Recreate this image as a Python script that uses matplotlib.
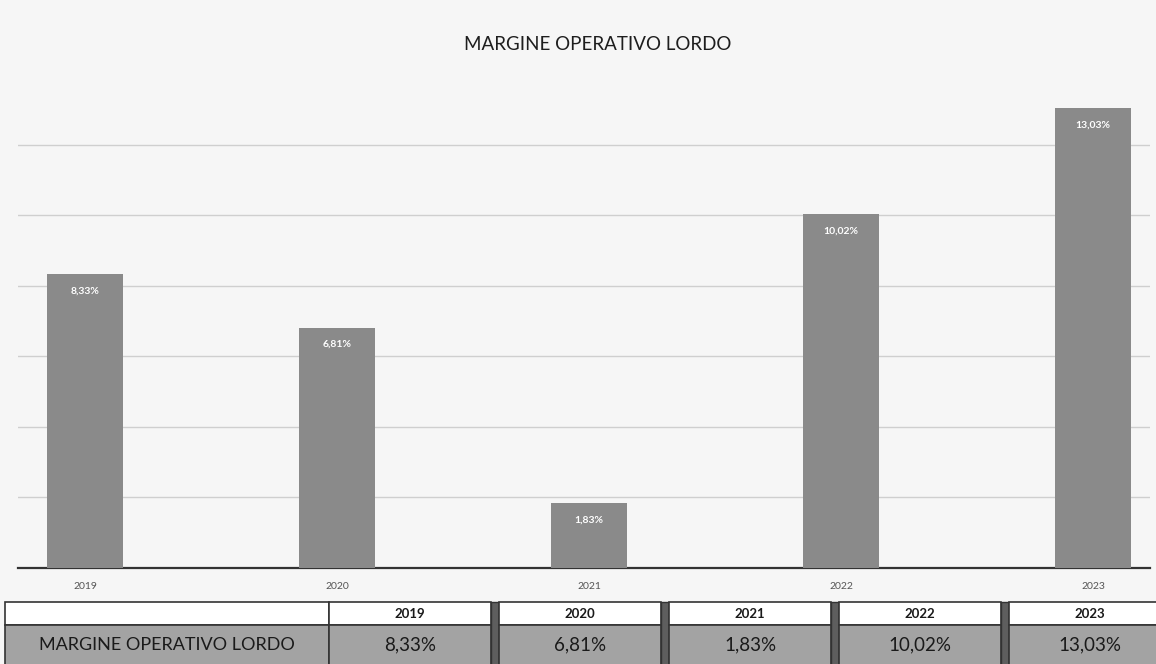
# Margine operativo lordo: bar chart with a small data table underneath.

import matplotlib.pyplot as plt
from matplotlib.patches import Rectangle

years = ['2019', '2020', '2021', '2022', '2023']
margin_pct = [8.33, 6.81, 1.83, 10.02, 13.03]
value_labels = ['8,33%', '6,81%', '1,83%', '10,02%', '13,03%']
row_label = 'MARGINE OPERATIVO LORDO'
title = 'MARGINE OPERATIVO LORDO'

plt.rcParams['font.family'] = ['Lato', 'DejaVu Sans']

W, H = 1156, 664
fig = plt.figure(figsize=(W / 100, H / 100), dpi=100, facecolor='#f6f6f6')

# chart area (pixel box -> figure fractions)
left, right, top, base = 18, 1150, 74, 568
ax = fig.add_axes([left / W, (H - base) / H, (right - left) / W, (base - top) / H])
ax.set_facecolor('none')

x = list(range(len(years)))
bars = ax.bar(x, margin_pct, width=0.30, color='#8a8a8a', zorder=3)
ax.set_xlim(-0.266, 4.226)
ax.set_ylim(0, 14)

# gridlines
ax.set_yticks([2, 4, 6, 8, 10, 12])
ax.yaxis.grid(True, color='#cfcfcf', linewidth=1, zorder=0)
ax.tick_params(axis='y', left=False, labelleft=False)
ax.tick_params(axis='x', length=0, pad=10, labelsize=7.5, labelcolor='#555555')
ax.set_xticks(x)
ax.set_xticklabels(years)
for s in ['top', 'right', 'left']:
    ax.spines[s].set_visible(False)
ax.spines['bottom'].set_color('#333333')
ax.spines['bottom'].set_linewidth(1.6)

# data labels inside the bars
for b, lab in zip(bars, value_labels):
    ax.annotate(lab, (b.get_x() + b.get_width() / 2, b.get_height()),
                xytext=(0, -12), textcoords='offset points',
                ha='center', va='center', color='white',
                fontsize=7.5, fontweight='bold', zorder=4)

fig.text(598 / W, 1 - 45 / H, title, ha='center', va='center',
         fontsize=13.5, color='#1e1e1e')

# table under the chart, drawn in pixel coordinates
tab = fig.add_axes([0, 0, 1, 1], zorder=5)
tab.set_xlim(0, W)
tab.set_ylim(H, 0)
tab.axis('off')

hdr_top, hdr_bot, row_bot = 602, 625, 666
lab_l, lab_r = 5, 329
col_w, gap = 162, 8

tab.add_patch(Rectangle((lab_l, hdr_top), lab_r - lab_l, hdr_bot - hdr_top,
                        facecolor='white', edgecolor='#333333', lw=1.2))
tab.add_patch(Rectangle((lab_l, hdr_bot), lab_r - lab_l, row_bot - hdr_bot,
                        facecolor='#a3a3a3', edgecolor='#333333', lw=1.2))
tab.text((lab_l + lab_r) / 2, (hdr_bot + row_bot) / 2 - 1, row_label,
         ha='center', va='center', fontsize=13, color='#1a1a1a')

for i, (yr, lab) in enumerate(zip(years, value_labels)):
    cx = lab_r + i * (col_w + gap)
    tab.add_patch(Rectangle((cx, hdr_top), col_w, hdr_bot - hdr_top,
                            facecolor='white', edgecolor='#333333', lw=1.2))
    tab.add_patch(Rectangle((cx, hdr_bot), col_w, row_bot - hdr_bot,
                            facecolor='#a3a3a3', edgecolor='#333333', lw=1.2))
    if i < len(years) - 1:
        tab.add_patch(Rectangle((cx + col_w, hdr_top), gap, row_bot - hdr_top,
                                facecolor='#5e5e5e', edgecolor='#333333', lw=1))
    tab.text(cx + col_w / 2, (hdr_top + hdr_bot) / 2, yr, ha='center', va='center',
             fontsize=9.5, fontweight='bold', color='#1a1a1a')
    tab.text(cx + col_w / 2, (hdr_bot + row_bot) / 2 - 1, lab, ha='center', va='center',
             fontsize=13.5, color='#1a1a1a')

plt.savefig('out.png', dpi=100, facecolor=fig.get_facecolor())
